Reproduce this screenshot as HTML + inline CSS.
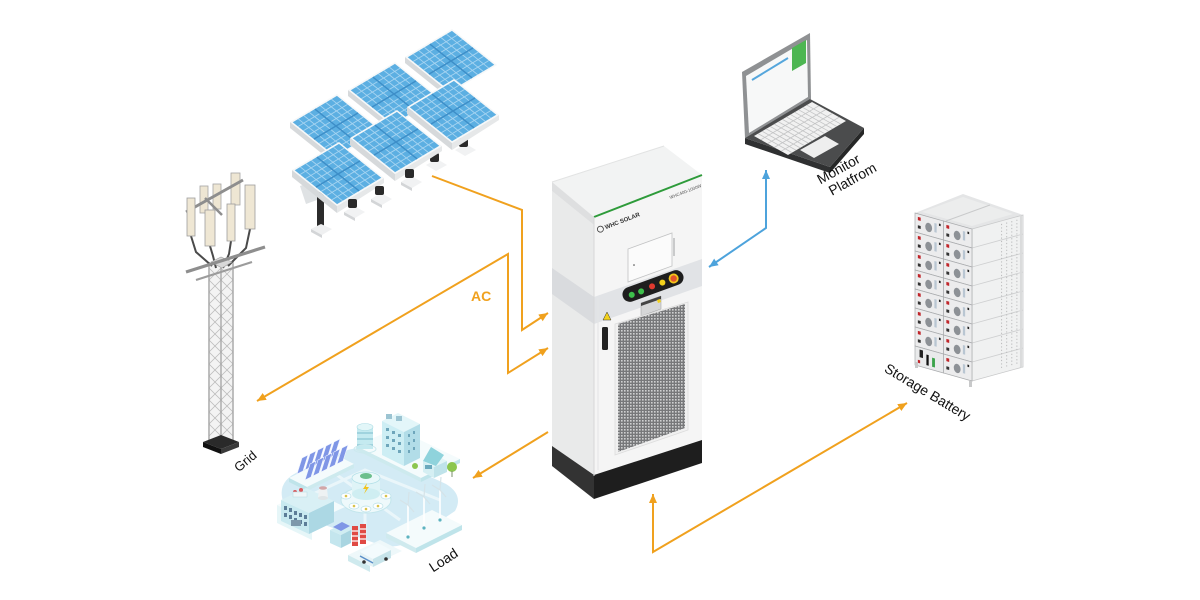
<!DOCTYPE html>
<html><head><meta charset="utf-8"><style>
html,body{margin:0;padding:0;background:#fff;}
svg{display:block;}
text{font-family:"Liberation Sans",sans-serif;}
</style></head><body>
<svg width="1200" height="600" viewBox="0 0 1200 600" xmlns="http://www.w3.org/2000/svg">
<defs>
  <marker id="ao" markerUnits="userSpaceOnUse" markerWidth="10" markerHeight="9" refX="9" refY="4" orient="auto-start-reverse"><path d="M0,0 L9,4 L0,8 Z" fill="#F0A11E"/></marker>
  <marker id="ab" markerUnits="userSpaceOnUse" markerWidth="10" markerHeight="9" refX="9" refY="4" orient="auto-start-reverse"><path d="M0,0 L9,4 L0,8 Z" fill="#4DA3DC"/></marker>
  <pattern id="mesh" width="3" height="3" patternUnits="userSpaceOnUse"><rect width="3" height="3" fill="#77787a"/><rect width="1.6" height="1.6" fill="#cfd0d1"/></pattern>
  <g id="pv">
    <rect x="0" y="0" width="100" height="100" fill="#f6f8f9"/>
    <rect x="3" y="3" width="94" height="94" fill="#5cafe2"/>
    <path d="M14.75,3V97M26.5,3V97M38.25,3V97M61.75,3V97M73.5,3V97M85.25,3V97M3,14.75H97M3,26.5H97M3,38.25H97M3,61.75H97M3,73.5H97M3,85.25H97" stroke="#a6d4f1" stroke-width="0.9" vector-effect="non-scaling-stroke" fill="none"/>
    <path d="M50,3V97M3,50H97" stroke="#3d8ec8" stroke-width="1.4" vector-effect="non-scaling-stroke"/>
  </g>
  <g id="zz">
    <path d="M209,268 L221,280 L209,292 L221,304 L209,316 L221,328 L209,340 L221,352 L209,364 L221,376 L209,388 L221,400 L209,412 L221,424 L209,436" fill="none" stroke="#bdbdbd" stroke-width="0.8"/>
    <path d="M221,268 L209,280 L221,292 L209,304 L221,316 L209,328 L221,340 L209,352 L221,364 L209,376 L221,388 L209,400 L221,412 L209,424 L221,436" fill="none" stroke="#bdbdbd" stroke-width="0.8"/>
  </g>
  <g id="mod">
    <rect x="0" y="0" width="50" height="12.5" fill="#ececed" stroke="#a9abad" stroke-width="0.7" vector-effect="non-scaling-stroke"/>
    <rect x="5" y="2" width="5" height="2.2" fill="#c0262b"/>
    <rect x="5" y="7.5" width="5" height="2" fill="#333"/>
    <ellipse cx="24" cy="7" rx="6" ry="3" fill="#8d9196"/>
    <rect x="34" y="3" width="4" height="6" fill="#b9c6d2"/>
    <rect x="42" y="2.5" width="3" height="1.5" fill="#222"/>
  </g>
</defs>

<!-- ================= SOLAR PANELS ================= -->
<g>
  <polygon points="405,57 450,93 450,99 405,63" fill="#d6d9db"/>
  <use href="#pv" transform="matrix(0.47,-0.28,0.45,0.36,405,57)"/>
  <polygon points="348,90 393,126 393,132 348,96" fill="#d6d9db"/>
  <use href="#pv" transform="matrix(0.47,-0.28,0.45,0.36,348,90)"/>
  <polygon points="290,122 335,158 335,164 290,128" fill="#d6d9db"/>
  <use href="#pv" transform="matrix(0.47,-0.28,0.45,0.36,290,122)"/>
  <polygon points="455,150 466,144 476,150 465,156" fill="#f1f2f3"/>
  <rect x="459" y="138" width="9" height="9" rx="2" fill="#2a2a2a"/>
  <polygon points="426,165 437,159 447,165 436,171" fill="#f1f2f3"/>
  <rect x="430" y="153" width="9" height="9" rx="2" fill="#2a2a2a"/>
  <polygon points="407,107 452,143 452,150 407,114" fill="#d6d9db"/>
  <polygon points="452,143 499,115 499,120 452,150" fill="#e6e8e9"/>
  <use href="#pv" transform="matrix(0.47,-0.28,0.45,0.36,407,107)"/>
  <polygon points="350,138 395,174 395,181 350,145" fill="#d6d9db"/>
  <polygon points="395,174 442,146 442,151 395,181" fill="#e6e8e9"/>
  <use href="#pv" transform="matrix(0.47,-0.28,0.45,0.36,350,138)"/>
  <polygon points="300,186 322,178 328,196 306,204" fill="#dfe2e4"/>
  <rect x="317" y="192" width="7" height="35" fill="#2b2b2b"/>
  <polygon points="311,229 321,224 332,229 322,235" fill="#eff0f1"/>
  <polygon points="311,229 322,235 322,238 311,232" fill="#d3d5d7"/>
  <polygon points="292,170 337,206 337,213 292,177" fill="#d6d9db"/>
  <polygon points="337,206 384,178 384,183 337,213" fill="#e6e8e9"/>
  <use href="#pv" transform="matrix(0.47,-0.28,0.45,0.36,292,170)"/>
  <polygon points="344,212 354,206 365,212 355,218" fill="#f1f2f3"/>
  <polygon points="344,212 355,218 355,221 344,215" fill="#d3d5d7"/>
  <rect x="348" y="199" width="9" height="9" rx="2" fill="#2a2a2a"/>
  <polygon points="371,199 381,193 392,199 382,205" fill="#f1f2f3"/>
  <polygon points="371,199 382,205 382,208 371,202" fill="#d3d5d7"/>
  <rect x="375" y="186" width="9" height="9" rx="2" fill="#2a2a2a"/>
  <polygon points="401,182 411,176 422,182 412,188" fill="#f1f2f3"/>
  <polygon points="401,182 412,188 412,191 401,185" fill="#d3d5d7"/>
  <rect x="405" y="169" width="9" height="9" rx="2" fill="#2a2a2a"/>
</g>

<!-- ================= TOWER (GRID) ================= -->
<g>
  <rect x="208" y="264" width="26" height="176" fill="#f3f3f3"/>
  <use href="#zz"/>
  <use href="#zz" transform="translate(12,0)"/>
  <path d="M209,262V441M221,266V444M233,260V441" stroke="#a3a3a3" stroke-width="1.3"/>
  <polygon points="203,442 221,435 239,442 221,449" fill="#2a2a2a"/>
  <polygon points="203,442 221,449 221,454 203,447" fill="#111"/>
  <polygon points="221,449 239,442 239,447 221,454" fill="#3a3a3a"/>
  <rect x="200" y="186" width="8" height="27" fill="#eee6d3" stroke="#a5a5a5" stroke-width="0.8"/>
  <rect x="213" y="184" width="8" height="25" fill="#eee6d3" stroke="#a5a5a5" stroke-width="0.8"/>
  <rect x="231" y="173" width="9" height="32" fill="#eee6d3" stroke="#a5a5a5" stroke-width="0.8"/>
  <line x1="186" y1="212" x2="243" y2="180" stroke="#8e8e8e" stroke-width="3"/>
  <line x1="205" y1="198" x2="222" y2="215" stroke="#8e8e8e" stroke-width="2.5"/>
  <path d="M191,236 L196,252 L212,266 M210,246 L213,256 L216,268 M231,241 L229,254 L223,268 M250,229 L246,248 L228,266" fill="none" stroke="#4a4a4a" stroke-width="2"/>
  <rect x="187" y="198" width="8" height="38" fill="#efe7d4" stroke="#9d9d9d" stroke-width="0.8"/>
  <rect x="205" y="210" width="10" height="36" fill="#efe7d4" stroke="#9d9d9d" stroke-width="0.8"/>
  <rect x="227" y="204" width="8" height="37" fill="#efe7d4" stroke="#9d9d9d" stroke-width="0.8"/>
  <rect x="245" y="185" width="10" height="44" fill="#efe7d4" stroke="#9d9d9d" stroke-width="0.8"/>
  <polygon points="211,262 221,257 232,262 222,268" fill="#d8d8d8" stroke="#a0a0a0" stroke-width="0.6"/>
  <line x1="186" y1="272" x2="265" y2="247" stroke="#8e8e8e" stroke-width="3.2"/>
  <line x1="196" y1="280" x2="252" y2="262" stroke="#9c9c9c" stroke-width="2.2"/>
</g>

<!-- ================= LOAD (CITY) ================= -->
<g>
  <path d="M282,497 Q279,480 300,471 L345,451 Q360,445 376,452 L446,484 Q464,495 455,511 L412,540 Q396,550 380,545 L300,516 Q283,509 282,497 Z" fill="#d3ebf5"/>
  <path d="M300,500 L365,470 L440,500 M330,470 L400,520 M365,470 L365,540" stroke="#eaf6fa" stroke-width="3" fill="none"/>
  <polygon points="289,478 336,455 354,464 307,487" fill="#f4fbfc"/>
  <polygon points="289,478 307,487 307,491 289,482" fill="#bfe4ea"/>
  <polygon points="307,487 354,464 354,468 307,491" fill="#cdeaee"/>
  <g fill="#7f96e6" stroke="#eef3ff" stroke-width="0.6">
    <polygon points="297,474 302,458 308,455 303,471"/>
    <polygon points="305,470 310,454 316,451 311,467"/>
    <polygon points="313,466 318,450 324,447 319,463"/>
    <polygon points="321,462 326,446 332,443 327,459"/>
    <polygon points="329,458 334,442 340,439 335,455"/>
    <polygon points="305,480 310,464 316,461 311,477"/>
    <polygon points="313,476 318,460 324,457 319,473"/>
    <polygon points="321,472 326,456 332,453 327,469"/>
    <polygon points="329,468 334,452 340,449 335,465"/>
    <polygon points="337,464 342,448 348,445 343,461"/>
  </g>
  <polygon points="356,446 395,428 460,459 421,478" fill="#f4fbfc"/>
  <polygon points="356,446 421,478 421,482 356,450" fill="#cdeaee"/>
  <polygon points="421,478 460,459 460,463 421,482" fill="#bfe4ea"/>
  <rect x="357" y="427" width="16" height="22" fill="#c4eaf0"/>
  <path d="M357,433H373M357,439H373M357,445H373" stroke="#7dbccb" stroke-width="1"/>
  <ellipse cx="365" cy="427" rx="8" ry="3.5" fill="#e2f6f8" stroke="#a9dbe3" stroke-width="0.6"/>
  <ellipse cx="365" cy="449" rx="11" ry="4" fill="none" stroke="#cbe9ee" stroke-width="1"/>
  <polygon points="382,421 398,413 420,424 404,432" fill="#e3f6f9"/>
  <polygon points="382,421 404,432 404,466 382,455" fill="#cdeef4"/>
  <polygon points="404,432 420,424 420,458 404,466" fill="#b2dde8"/>
  <g fill="#6ea6bb">
    <rect x="386" y="428" width="3" height="3"/><rect x="392" y="431" width="3" height="3"/><rect x="398" y="434" width="3" height="3"/>
    <rect x="386" y="436" width="3" height="3"/><rect x="392" y="439" width="3" height="3"/><rect x="398" y="442" width="3" height="3"/>
    <rect x="386" y="444" width="3" height="3"/><rect x="392" y="447" width="3" height="3"/><rect x="398" y="450" width="3" height="3"/>
    <rect x="408" y="434" width="2" height="3"/><rect x="413" y="431" width="2" height="3"/>
    <rect x="408" y="442" width="2" height="3"/><rect x="413" y="439" width="2" height="3"/>
    <rect x="408" y="450" width="2" height="3"/><rect x="413" y="447" width="2" height="3"/>
  </g>
  <rect x="386" y="414" width="6" height="5" fill="#9cc4d2"/><rect x="396" y="416" width="6" height="5" fill="#9cc4d2"/>
  <polygon points="423,461 436,455 447,461 434,467" fill="#e2f5f7"/>
  <polygon points="423,461 434,467 434,478 423,472" fill="#d5eff3"/>
  <polygon points="434,467 447,461 447,472 434,478" fill="#bfe3ea"/>
  <polygon points="423,461 431,447 444,455 436,466" fill="#8fd3dc"/>
  <rect x="425" y="465" width="7" height="4" fill="#6aa9bd"/>
  <circle cx="452" cy="467" r="5" fill="#8cc64f"/>
  <line x1="452" y1="471" x2="452" y2="477" stroke="#7a8f6a" stroke-width="1"/>
  <circle cx="415" cy="466" r="3" fill="#8cc64f"/>
  <ellipse cx="366" cy="500" rx="25" ry="13" fill="#eef9fb" stroke="#c3e6ec" stroke-width="1"/>
  <rect x="352" y="478" width="28" height="16" fill="#dff4f7"/>
  <ellipse cx="366" cy="494" rx="14" ry="6" fill="#cfeef2"/>
  <ellipse cx="366" cy="478" rx="14" ry="6" fill="#e9f8fa" stroke="#b4e1e8" stroke-width="0.8"/>
  <ellipse cx="366" cy="476" rx="6" ry="3" fill="#6cbf8d"/>
  <path d="M367,483 L363,489 L366,489 L364,494 L369,487 L366,487 Z" fill="#f2c21b"/>
  <g fill="#ffffff" stroke="#b7e0e8" stroke-width="0.7">
    <ellipse cx="346" cy="496" rx="5" ry="3"/><ellipse cx="386" cy="496" rx="5" ry="3"/>
    <ellipse cx="354" cy="506" rx="5" ry="3"/><ellipse cx="378" cy="506" rx="5" ry="3"/>
    <ellipse cx="366" cy="509" rx="5" ry="3"/>
  </g>
  <g fill="#d8c24a"><circle cx="346" cy="496" r="1.3"/><circle cx="386" cy="496" r="1.3"/><circle cx="354" cy="506" r="1.3"/><circle cx="378" cy="506" r="1.3"/><circle cx="366" cy="509" r="1.3"/></g>
  <polygon points="277,505 310,490 345,507 312,522" fill="#f4fbfc"/>
  <polygon points="277,505 312,522 312,540 277,523" fill="#e6f6f8"/>
  <polygon points="281,500 306,488 334,501 309,513" fill="#d9f0f5"/>
  <polygon points="281,500 309,513 309,534 281,521" fill="#c8e9f0"/>
  <polygon points="309,513 334,501 334,522 309,534" fill="#acd8e4"/>
  <g fill="#5c7d98">
    <rect x="284" y="506" width="3" height="4"/><rect x="289" y="508" width="3" height="4"/><rect x="294" y="511" width="3" height="4"/><rect x="299" y="513" width="3" height="4"/><rect x="304" y="515" width="3" height="4"/>
    <rect x="284" y="513" width="3" height="4"/><rect x="289" y="515" width="3" height="4"/><rect x="294" y="518" width="3" height="4"/><rect x="299" y="520" width="3" height="4"/><rect x="304" y="522" width="3" height="4"/>
  </g>
  <rect x="291" y="520" width="10" height="6" fill="#7e98ab"/>
  <circle cx="295" cy="492" r="2" fill="#d9595d"/><circle cx="301" cy="490" r="2" fill="#d9595d"/>
  <rect x="293" y="492" width="14" height="5" fill="#eef6f8" stroke="#b7d9e2" stroke-width="0.5"/>
  <path d="M318,498 L319,488 L327,488 L328,498 Z" fill="#eef2f3"/>
  <ellipse cx="323" cy="488" rx="4" ry="1.8" fill="#d2a6a8"/>
  <ellipse cx="323" cy="498" rx="5" ry="2" fill="#dfe5e7"/>
  <polygon points="330,530 340,525 351,530 341,535" fill="#d0edf2"/>
  <polygon points="330,530 341,535 341,548 330,543" fill="#c4e6ee"/>
  <polygon points="341,535 351,530 351,543 341,548" fill="#a9d5e1"/>
  <polygon points="333,527 342,522 350,526 341,531" fill="#7f96e6"/>
  <rect x="352" y="526" width="6" height="20" fill="#e04a44"/>
  <rect x="360" y="524" width="6" height="20" fill="#e04a44"/>
  <path d="M352,531H358M352,536H358M352,541H358M360,529H366M360,534H366M360,539H366" stroke="#fff" stroke-width="1.2"/>
  <polygon points="348,555 380,540 402,551 370,566" fill="#eef8fa"/>
  <polygon points="348,555 370,566 370,572 348,561" fill="#cfeaee"/>
  <polygon points="360,552 378,543 391,550 373,559" fill="#f3fbfd"/>
  <polygon points="360,552 373,559 373,567 360,560" fill="#e6f3f6"/>
  <polygon points="373,559 391,550 391,558 373,567" fill="#c7e4ea"/>
  <line x1="360" y1="556" x2="373" y2="563" stroke="#5b8fc8" stroke-width="1.5"/>
  <circle cx="364" cy="562" r="1.8" fill="#333"/><circle cx="386" cy="559" r="1.8" fill="#333"/>
  <polygon points="386,533 432,510 462,525 416,548" fill="#f4fbfc"/>
  <polygon points="386,533 416,548 416,553 386,538" fill="#cfeaee"/>
  <polygon points="416,548 462,525 462,530 416,553" fill="#bfe4ea"/>
  <g stroke="#ffffff" stroke-width="1.6">
    <line x1="408" y1="537" x2="408" y2="505"/><line x1="424" y1="528" x2="424" y2="497"/><line x1="440" y1="520" x2="440" y2="490"/>
  </g>
  <g stroke="#d5e3e8" stroke-width="1.2" fill="none">
    <path d="M408,505 L400,500 M408,505 L409,492 M408,505 L414,512"/>
    <path d="M424,497 L416,492 M424,497 L425,484 M424,497 L430,504"/>
    <path d="M440,490 L432,485 M440,490 L441,477 M440,490 L446,497"/>
  </g>
  <g fill="#5db3c0"><circle cx="408" cy="537" r="1.6"/><circle cx="424" cy="528" r="1.6"/><circle cx="440" cy="520" r="1.6"/></g>
</g>

<!-- ================= CABINET ================= -->
<g>
  <polygon points="552,191 594,225 594,480 552,450" fill="#e9eaea"/>
  <polygon points="594,217 702,175 702,441 594,480" fill="#f5f5f5"/>
  <polygon points="552,182 664,146 702,175 594,217" fill="#f2f3f3"/>
  <polygon points="552,182 594,217 594,225 552,191" fill="#dedfe0"/>
  <line x1="594" y1="217" x2="702" y2="175" stroke="#2e9b3a" stroke-width="2"/>
  <line x1="552" y1="182" x2="664" y2="146" stroke="#e2e3e3" stroke-width="1"/>
  <polygon points="594,297 702,259 702,286 594,324" fill="#e1e3e6"/>
  <polygon points="552,268 594,297 594,324 552,294" fill="#d9dbde"/>
  <polygon points="594,475 702,440 702,463 594,499" fill="#1e1e1e"/>
  <polygon points="552,446 594,475 594,499 552,466" fill="#333"/>
  <line x1="594" y1="217" x2="594" y2="476" stroke="#d6d7d8" stroke-width="1"/>
  <line x1="598" y1="298" x2="598" y2="470" stroke="#e3e4e5" stroke-width="1"/>
  <g transform="translate(606,227) rotate(-21)">
    <circle cx="-6" cy="0" r="3" fill="none" stroke="#333" stroke-width="0.8"/>
    <text x="-1" y="2" font-size="6" font-weight="bold" fill="#333">WHC SOLAR</text>
  </g>
  <text transform="translate(686,193) rotate(-21)" font-size="4.5" fill="#555" text-anchor="middle">WHC400-1000W</text>
  <polygon points="628,249 672,233 672,266 628,282" fill="#fbfbfb" stroke="#c2c3c4" stroke-width="0.8"/>
  <rect x="673" y="238" width="2" height="18" fill="#c9cacb"/>
  <circle cx="634" cy="265" r="0.8" fill="#444"/>
  <g transform="translate(653,286) rotate(-20)">
    <rect x="-32" y="-7.5" width="64" height="15" rx="7.5" fill="#1e1e1e"/>
    <circle cx="-23" cy="1" r="3" fill="#3dbf4b"/>
    <circle cx="-13" cy="1" r="3" fill="#3dbf4b"/>
    <circle cx="-1" cy="0" r="3" fill="#e03a2f"/>
    <circle cx="10" cy="0" r="3" fill="#f2d11c"/>
    <circle cx="22" cy="0" r="5" fill="#f2c61a"/>
    <circle cx="22" cy="0" r="3.2" fill="#e3542c"/>
  </g>
  <polygon points="641,303 661,296 661,309 641,316" fill="#d6d7d8" stroke="#9a9b9c" stroke-width="0.5"/>
  <polygon points="641,303 661,296 661,299 641,306" fill="#444"/>
  <polygon points="657,300 660,299 661,302 658,303" fill="#f2d11c"/>
  <polygon points="615,324 688,302 688,430 615,455" fill="#f0f0f0" stroke="#dcdcdc" stroke-width="0.8"/>
  <polygon points="618,324 685,304 685,428 618,452" fill="url(#mesh)"/>
  <polygon points="607,312 611,320 603,320" fill="#f2d11c" stroke="#333" stroke-width="0.5"/>
  <rect x="602" y="327" width="6" height="23" rx="1.5" fill="#222"/>
</g>

<!-- ================= LAPTOP ================= -->
<g>
  <polygon points="742,72 810,33 811,99 745,138" fill="#8f9193"/>
  <polygon points="746,76 807,40 808,97 749,133" fill="#f7f8f8"/>
  <line x1="752" y1="80" x2="788" y2="58" stroke="#55a6dc" stroke-width="2"/>
  <polygon points="792,48 806,40 806,63 792,71" fill="#4db652"/>
  <polygon points="745,138 830,167 830,173 745,144" fill="#2f3031"/>
  <polygon points="830,167 864,128 864,134 830,173" fill="#262727"/>
  <polygon points="745,138 810,99 864,128 830,167" fill="#4b4c4d"/>
  <polygon points="754,136 812,102 846,121 788,155" fill="#f1f1f1"/>
  <g transform="matrix(0.58,-0.34,0.34,0.19,754,136)">
    <path d="M7,0V100M14,0V100M21,0V100M28,0V100M35,0V100M42,0V100M49,0V100M56,0V100M63,0V100M70,0V100M77,0V100M84,0V100M91,0V100M0,20H100M0,40H100M0,60H100M0,80H100" stroke="#c3c4c5" stroke-width="0.8" vector-effect="non-scaling-stroke"/>
  </g>
  <polygon points="800,150 825,136 839,144 814,158" fill="#eeeeee"/>
</g>

<!-- ================= BATTERY ================= -->
<g>
  <polygon points="915,213 963,194 1023,215 972,229" fill="#e4e5e6"/>
  <polygon points="922,212 963,197 1013,214 972,226" fill="#eceded"/>
  <line x1="946" y1="221" x2="990" y2="205" stroke="#c9cacb" stroke-width="1"/>
  <g transform="matrix(0.51,-0.14,0,1.52,972,229)">
    <rect x="0" y="0" width="100" height="100" fill="#f0f1f1" stroke="#c8c9ca" stroke-width="0.8" vector-effect="non-scaling-stroke"/>
    <path d="M0,12.5H100M0,25H100M0,37.5H100M0,50H100M0,62.5H100M0,75H100M0,87.5H100" stroke="#cfd0d1" stroke-width="0.9" vector-effect="non-scaling-stroke"/>
    <path d="M58,2V98M68,2V98M78,2V98M88,2V98" stroke="#b9babb" stroke-width="1" stroke-dasharray="1.2,2.2" vector-effect="non-scaling-stroke"/>
    <path d="M96,0V100" stroke="#dadbdc" stroke-width="2" vector-effect="non-scaling-stroke"/>
  </g>
  <g transform="matrix(0.57,0.16,0,1.52,915,213)">
    <rect x="0" y="0" width="100" height="100" fill="#e4e5e6"/>
    <use href="#mod" x="0" y="0"/><use href="#mod" x="50" y="0"/>
    <use href="#mod" x="0" y="12.5"/><use href="#mod" x="50" y="12.5"/>
    <use href="#mod" x="0" y="25"/><use href="#mod" x="50" y="25"/>
    <use href="#mod" x="0" y="37.5"/><use href="#mod" x="50" y="37.5"/>
    <use href="#mod" x="0" y="50"/><use href="#mod" x="50" y="50"/>
    <use href="#mod" x="0" y="62.5"/><use href="#mod" x="50" y="62.5"/>
    <use href="#mod" x="0" y="75"/><use href="#mod" x="50" y="75"/>
    <rect x="0" y="87.5" width="50" height="12.5" fill="#e9eaeb" stroke="#a9abad" stroke-width="0.7" vector-effect="non-scaling-stroke"/>
    <use href="#mod" x="50" y="87.5"/>
    <rect x="8" y="89" width="6" height="5" fill="#222"/>
    <rect x="20" y="91" width="4" height="7" fill="#111"/>
    <rect x="30" y="92" width="5" height="6" fill="#3aa34a"/>
    <rect x="5" y="96" width="4" height="2" fill="#c0262b"/>
  </g>
  <rect x="915" y="362" width="3" height="6" fill="#c8c9ca"/>
  <rect x="969" y="381" width="3" height="6" fill="#c8c9ca"/>
</g>

<!-- ================= CONNECTORS ================= -->
<g fill="none" stroke="#F0A11E" stroke-width="2" stroke-linejoin="miter">
  <polyline points="432,176 522,210 522,330 548,313" marker-end="url(#ao)"/>
  <polyline points="257,401 508,254 508,373 548,348" marker-start="url(#ao)" marker-end="url(#ao)"/>
  <polyline points="548,432 473,478" marker-end="url(#ao)"/>
  <polyline points="653,494 653,552 907,403" marker-start="url(#ao)" marker-end="url(#ao)"/>
</g>
<polyline points="766,170 766,228 709,267" fill="none" stroke="#4DA3DC" stroke-width="2" marker-start="url(#ab)" marker-end="url(#ab)"/>

<!-- ================= LABELS ================= -->
<text x="471" y="301" font-size="14" font-weight="bold" fill="#F0A11E">AC</text>
<text transform="translate(246,462) rotate(-40)" font-size="13" fill="#111" text-anchor="middle" dominant-baseline="middle">Grid</text>
<text transform="translate(444,561) rotate(-33)" font-size="14" fill="#111" text-anchor="middle" dominant-baseline="middle">Load</text>
<text transform="translate(839,170) rotate(-29)" font-size="14" fill="#111" text-anchor="middle" dominant-baseline="middle">Monitor</text>
<text transform="translate(853,180) rotate(-29)" font-size="14" fill="#111" text-anchor="middle" dominant-baseline="middle">Platfrom</text>
<text transform="translate(927,393) rotate(31)" font-size="14" fill="#111" text-anchor="middle" dominant-baseline="middle">Storage Battery</text>
</svg>
</body></html>
